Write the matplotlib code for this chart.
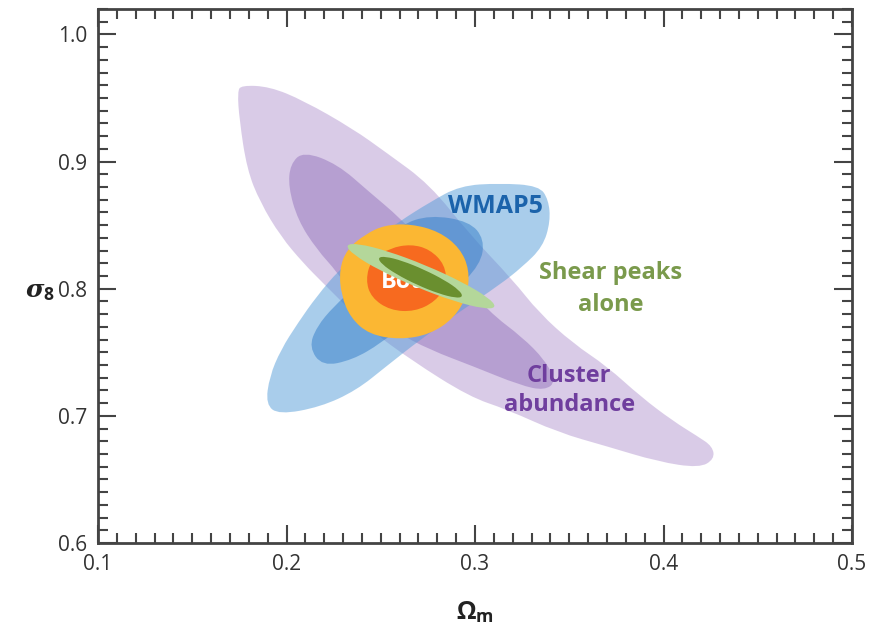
import numpy as np
import matplotlib
matplotlib.use('Agg')
import matplotlib.pyplot as plt
from matplotlib.path import Path
from matplotlib.patches import PathPatch
from matplotlib.ticker import MultipleLocator

plt.rcParams['font.family'] = ['Open Sans', 'DejaVu Sans']
plt.rcParams['mathtext.fontset'] = 'custom'
plt.rcParams['mathtext.rm'] = 'Open Sans:bold'
plt.rcParams['mathtext.bf'] = 'Open Sans:bold'
plt.rcParams['mathtext.it'] = 'DejaVu Serif:italic:bold'

# contour outlines (Omega_m, sigma_8)
cluster_95_om = [0.176, 0.191, 0.209, 0.235, 0.253, 0.276, 0.297, 0.320, 0.334, 0.352,
                 0.370, 0.388, 0.405, 0.418, 0.426, 0.427, 0.419, 0.397, 0.370, 0.344,
                 0.317, 0.297, 0.266, 0.244, 0.219, 0.209, 0.197, 0.186, 0.179, 0.175, 0.174]
cluster_95_s8 = [0.960, 0.959, 0.948, 0.926, 0.907, 0.882, 0.843, 0.807, 0.781, 0.757,
                 0.739, 0.715, 0.696, 0.684, 0.676, 0.666, 0.659, 0.664, 0.676, 0.687,
                 0.705, 0.715, 0.744, 0.768, 0.805, 0.820, 0.841, 0.868, 0.894, 0.933, 0.955]

cluster_68_om = [0.209, 0.227, 0.244, 0.260, 0.281, 0.308, 0.325, 0.337, 0.343, 0.337,
                 0.324, 0.299, 0.276, 0.258, 0.239, 0.227, 0.216, 0.206, 0.201, 0.202]
cluster_68_s8 = [0.908, 0.898, 0.876, 0.856, 0.824, 0.781, 0.762, 0.744, 0.727, 0.720,
                 0.724, 0.739, 0.752, 0.766, 0.787, 0.813, 0.831, 0.854, 0.880, 0.898]

wmap_95_om = [0.189, 0.191, 0.197, 0.206, 0.216, 0.228, 0.244, 0.260, 0.276, 0.292,
              0.313, 0.334, 0.339, 0.340, 0.336, 0.325, 0.313, 0.292, 0.271, 0.253,
              0.237, 0.218, 0.196]
wmap_95_s8 = [0.709, 0.731, 0.752, 0.773, 0.794, 0.815, 0.836, 0.853, 0.868, 0.881,
              0.883, 0.881, 0.870, 0.853, 0.833, 0.817, 0.803, 0.782, 0.760, 0.739,
              0.720, 0.707, 0.701]

wmap_68_om = [0.212, 0.219, 0.235, 0.250, 0.266, 0.287, 0.303, 0.305, 0.297, 0.276,
              0.260, 0.244, 0.237, 0.225, 0.216]
wmap_68_s8 = [0.754, 0.739, 0.744, 0.757, 0.776, 0.795, 0.819, 0.839, 0.853, 0.858,
              0.850, 0.827, 0.802, 0.786, 0.770]

both_95_om = [0.228, 0.232, 0.242, 0.252, 0.266, 0.281, 0.292, 0.297, 0.296, 0.289,
              0.276, 0.260, 0.244, 0.234, 0.229]
both_95_s8 = [0.815, 0.831, 0.843, 0.850, 0.851, 0.845, 0.832, 0.815, 0.795, 0.777,
              0.764, 0.760, 0.764, 0.777, 0.795]

both_68_om = [0.242, 0.245, 0.255, 0.266, 0.276, 0.284, 0.285, 0.279, 0.268, 0.255, 0.245]
both_68_s8 = [0.807, 0.823, 0.832, 0.835, 0.831, 0.819, 0.803, 0.790, 0.782, 0.783, 0.793]

shear_95_om = [0.3116, 0.3049, 0.2893, 0.2689, 0.2491, 0.2353, 0.2311, 0.2378, 0.2534,
               0.2738, 0.2936, 0.3074]
shear_95_s8 = [0.7851, 0.7841, 0.7899, 0.8011, 0.8146, 0.8269, 0.8346, 0.8356, 0.8298,
               0.8186, 0.8050, 0.7928]

shear_68_om = [0.2937, 0.2898, 0.2808, 0.2692, 0.2581, 0.2505, 0.2484, 0.2524, 0.2614,
               0.2729, 0.2841, 0.2917]
shear_68_s8 = [0.7936, 0.7927, 0.7961, 0.8030, 0.8115, 0.8193, 0.8245, 0.8254, 0.8220,
               0.8151, 0.8066, 0.7988]

x_ticks = [0.1, 0.2, 0.3, 0.4, 0.5]
y_ticks = [0.6, 0.7, 0.8, 0.9, 1.0]


def contour_patch(om, s8, **kw):
    # closed smooth outline: points are used as quadratic bezier control points
    pts = np.column_stack([om, s8])
    mids = (pts + np.roll(pts, -1, axis=0)) / 2.
    verts = [mids[-1]]
    codes = [Path.MOVETO]
    for p, m in zip(pts, mids):
        verts += [p, m]
        codes += [Path.CURVE3, Path.CURVE3]
    verts.append(mids[-1])
    codes.append(Path.CLOSEPOLY)
    return PathPatch(Path(verts, codes), lw=0, **kw)


fig = plt.figure(figsize=(8.69, 6.24), dpi=100)
ax = fig.add_axes((98/869, 81/624, 754/869, 534/624))

ax.add_patch(contour_patch(cluster_95_om, cluster_95_s8, fc='#b599d1', alpha=0.5, zorder=1))
ax.add_patch(contour_patch(cluster_68_om, cluster_68_s8, fc='#9474bc', alpha=0.5, zorder=2))
ax.add_patch(contour_patch(wmap_95_om, wmap_95_s8, fc='#559dd9', alpha=0.5, zorder=3))
ax.add_patch(contour_patch(wmap_68_om, wmap_68_s8, fc='#327cc8', alpha=0.5, zorder=4))
ax.add_patch(contour_patch(both_95_om, both_95_s8, fc='#fbb733', zorder=5))
ax.add_patch(contour_patch(both_68_om, both_68_s8, fc='#f76a1f', zorder=6))
ax.text(0.250, 0.8055, 'Both', color='white', fontsize=17, fontweight='bold',
        ha='left', va='center', zorder=7)
ax.add_patch(contour_patch(shear_95_om, shear_95_s8, fc='#b4d79a', zorder=8))
ax.add_patch(contour_patch(shear_68_om, shear_68_s8, fc='#6a8f2f', zorder=9))

ax.text(0.311, 0.8646, 'WMAP5', color='#1b63ab', fontsize=18, fontweight='bold',
        ha='center', va='center', zorder=10)
ax.text(0.372, 0.7995, 'Shear peaks\nalone', color='#7a9a4c', fontsize=17, fontweight='bold',
        ha='center', va='center', linespacing=1.45, zorder=10)
ax.text(0.350, 0.7200, 'Cluster\nabundance', color='#6f3e9e', fontsize=17, fontweight='bold',
        ha='center', va='center', linespacing=1.3, zorder=10)

ax.set_xlim(0.1, 0.5)
ax.set_ylim(0.6, 1.02)
ax.set_xticks(x_ticks)
ax.set_yticks(y_ticks)
ax.set_xticklabels([f'{v:.1f}' for v in x_ticks])
ax.set_yticklabels([f'{v:.1f}' for v in y_ticks])
ax.xaxis.set_minor_locator(MultipleLocator(0.01))
ax.yaxis.set_minor_locator(MultipleLocator(0.01))
ax.tick_params(which='both', direction='in', top=True, right=True, color='#444444',
               width=1.5, labelsize=15, labelcolor='#333333')
ax.tick_params(which='major', length=13, pad=8)
ax.tick_params(which='minor', length=7)
for sp in ax.spines.values():
    sp.set_linewidth(2)
    sp.set_color('#444444')

ax.set_xlabel(r'$\Omega_\mathrm{m}$', fontsize=18, color='#222222')
ax.xaxis.set_label_coords(0.5, -0.105)
ax.set_ylabel(r'$\sigma_\mathbf{8}$', fontsize=18, rotation=0, color='#222222',
              ha='center', va='center')
ax.yaxis.set_label_coords(-0.077, 0.473)

plt.savefig('out.png')
